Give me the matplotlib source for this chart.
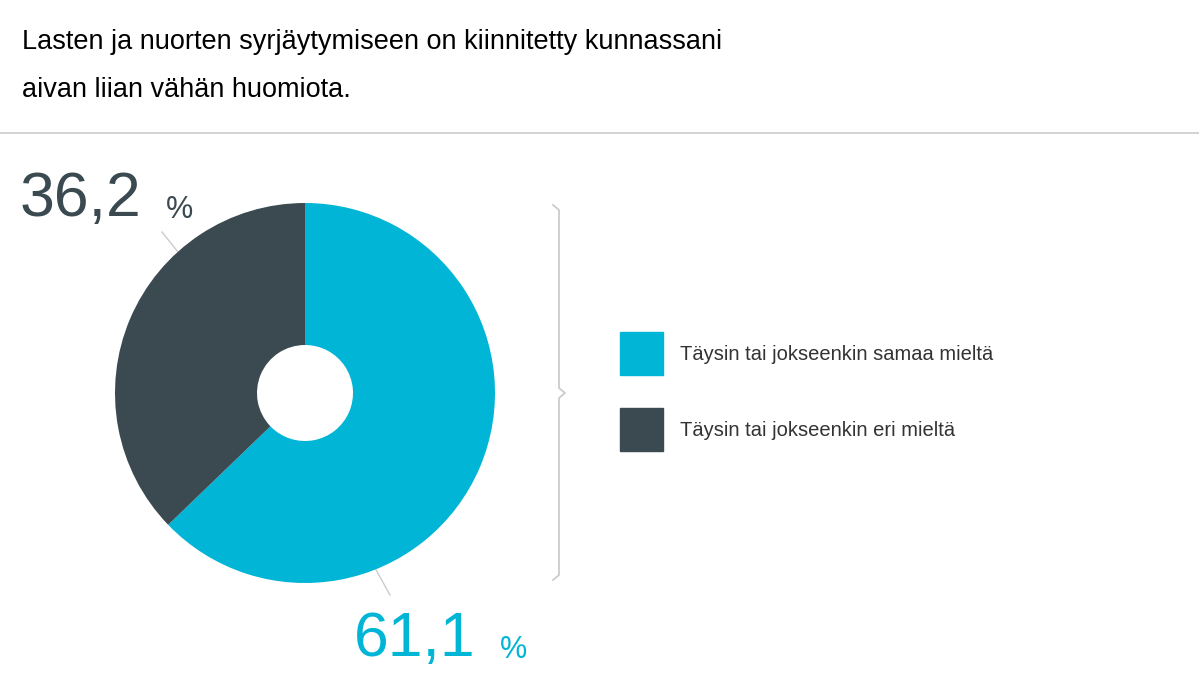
import matplotlib
matplotlib.use("Agg")
import matplotlib.pyplot as plt
from matplotlib.patches import Rectangle

categories = ["Täysin tai jokseenkin samaa mieltä", "Täysin tai jokseenkin eri mieltä"]
values = [61.1, 36.2]
colors = ["#00b5d6", "#3a4a50"]
labels = ["61,1", "36,2"]

W, H = 1199, 674
fig = plt.figure(figsize=(W/100, H/100), dpi=100)
fig.patch.set_facecolor("white")
over = fig.add_axes([0, 0, 1, 1])
over.set_xlim(0, W); over.set_ylim(H, 0); over.axis("off")

over.text(22, 42, "Lasten ja nuorten syrjäytymiseen on kiinnitetty kunnassani", fontsize=19.5, va="center", family="Liberation Sans")
over.text(22, 90, "aivan liian vähän huomiota.", fontsize=19.5, va="center", family="Liberation Sans")
over.plot([0, W], [133, 133], color="#cccccc", lw=1.2)

cx, cy, r = 305, 393, 190
ax = fig.add_axes([(cx-r)/W, (H-cy-r)/H, 2*r/W, 2*r/H])
ax.pie(values, colors=colors, startangle=90, counterclock=False, radius=1,
       wedgeprops=dict(width=1-48/190, linewidth=0))
ax.set_xlim(-1, 1); ax.set_ylim(-1, 1)
ax.set_aspect("equal")
ax.axis("off")

# leader lines
over.plot([162, 178], [232, 252], color="#cccccc", lw=1)
over.plot([375, 390], [568, 595], color="#cccccc", lw=1)

over.text(20, 200, labels[1], fontsize=45, color=colors[1], va="center", family="Liberation Sans")
over.text(166, 210, "%", fontsize=22, color=colors[1], va="center", family="Liberation Sans")
over.text(354, 640, labels[0], fontsize=45, color=colors[0], va="center", family="Liberation Sans")
over.text(500, 650, "%", fontsize=22, color=colors[0], va="center", family="Liberation Sans")

# bracket
bx = 553
over.plot([bx, bx+6, bx+6, bx+12, bx+6, bx+6, bx], [205, 210, 388, 393, 398, 575, 580], color="#cccccc", lw=1.3)

for i, (c, lab) in enumerate(zip(colors, categories)):
    y = 332 + i*76
    over.add_patch(Rectangle((620, y), 43, 43, color=c))
    over.text(680, y+22, lab, fontsize=14.5, color="#333333", va="center", family="Liberation Sans")

fig.savefig("out.png", dpi=100, facecolor="white")
